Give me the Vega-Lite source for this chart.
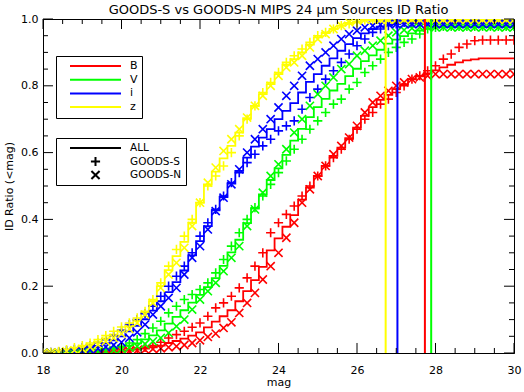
{
"$schema":"https://vega.github.io/schema/vega-lite/v6.json",
"width":471,"height":334,
"autosize":{"type":"none"},
"padding":{"left":43,"top":19,"right":10,"bottom":39},
"title":{"text":"GOODS-S vs GOODS-N MIPS 24 μm Sources ID Ratio","font":"DejaVu Sans","fontSize":13,"fontWeight":"normal","color":"black","anchor":"middle","offset":-4},
"config":{"font":"DejaVu Sans","view":{"stroke":"black","strokeWidth":1},
"axis":{"domainColor":"black","labelColor":"black","titleColor":"black","grid":false,"ticks":false,"labelFontSize":11,"titleFontSize":11,"titleFontWeight":"normal","labelFlush":false,"labelOverlap":false}},
"datasets":{
"xmaj":[{"v":18},{"v":20},{"v":22},{"v":24},{"v":26},{"v":28},{"v":30}],
"xmin":[{"v":18.5},{"v":19},{"v":19.5},{"v":20.5},{"v":21},{"v":21.5},{"v":22.5},{"v":23},{"v":23.5},{"v":24.5},{"v":25},{"v":25.5},{"v":26.5},{"v":27},{"v":27.5},{"v":28.5},{"v":29},{"v":29.5}],
"ymaj":[{"v":0},{"v":0.2},{"v":0.4},{"v":0.6},{"v":0.8},{"v":1}],
"ymin":[{"v":0.05},{"v":0.1},{"v":0.15},{"v":0.25},{"v":0.3},{"v":0.35},{"v":0.45},{"v":0.5},{"v":0.55},{"v":0.65},{"v":0.7},{"v":0.75},{"v":0.85},{"v":0.9},{"v":0.95}],
"vlines":[{"band":"z","m":26.73},{"band":"i","m":27.03},{"band":"B","m":27.73},{"band":"V","m":27.89}],
"curves":[
{"band":"B","m":18,"S":0,"N":0,"A":0},{"band":"B","m":18.2,"S":0,"N":0,"A":0},{"band":"B","m":18.4,"S":0,"N":0,"A":0},{"band":"B","m":18.6,"S":0,"N":0,"A":0},{"band":"B","m":18.8,"S":0,"N":0,"A":0},
{"band":"B","m":19,"S":0.001,"N":0,"A":0.001},{"band":"B","m":19.2,"S":0.001,"N":0,"A":0.001},{"band":"B","m":19.4,"S":0.002,"N":0,"A":0.001},{"band":"B","m":19.6,"S":0.003,"N":0.001,"A":0.002},{"band":"B","m":19.8,"S":0.004,"N":0.002,"A":0.003},
{"band":"B","m":20,"S":0.005,"N":0.004,"A":0.005},{"band":"B","m":20.2,"S":0.008,"N":0.006,"A":0.007},{"band":"B","m":20.4,"S":0.012,"N":0.008,"A":0.01},{"band":"B","m":20.6,"S":0.017,"N":0.01,"A":0.013},{"band":"B","m":20.8,"S":0.022,"N":0.012,"A":0.017},
{"band":"B","m":21,"S":0.032,"N":0.014,"A":0.022},{"band":"B","m":21.2,"S":0.045,"N":0.017,"A":0.03},{"band":"B","m":21.4,"S":0.055,"N":0.02,"A":0.036},{"band":"B","m":21.6,"S":0.065,"N":0.024,"A":0.043},{"band":"B","m":21.8,"S":0.077,"N":0.03,"A":0.052},
{"band":"B","m":22,"S":0.09,"N":0.038,"A":0.062},{"band":"B","m":22.2,"S":0.11,"N":0.048,"A":0.077},{"band":"B","m":22.4,"S":0.135,"N":0.058,"A":0.094},{"band":"B","m":22.6,"S":0.15,"N":0.075,"A":0.11},{"band":"B","m":22.8,"S":0.17,"N":0.092,"A":0.128},
{"band":"B","m":23,"S":0.195,"N":0.12,"A":0.155},{"band":"B","m":23.2,"S":0.225,"N":0.15,"A":0.185},{"band":"B","m":23.4,"S":0.26,"N":0.18,"A":0.218},{"band":"B","m":23.6,"S":0.3,"N":0.22,"A":0.258},{"band":"B","m":23.8,"S":0.36,"N":0.26,"A":0.307},
{"band":"B","m":24,"S":0.39,"N":0.3,"A":0.343},{"band":"B","m":24.2,"S":0.415,"N":0.345,"A":0.378},{"band":"B","m":24.4,"S":0.44,"N":0.39,"A":0.413},{"band":"B","m":24.6,"S":0.47,"N":0.45,"A":0.459},{"band":"B","m":24.8,"S":0.5,"N":0.49,"A":0.495},
{"band":"B","m":25,"S":0.53,"N":0.53,"A":0.53},{"band":"B","m":25.2,"S":0.56,"N":0.56,"A":0.56},{"band":"B","m":25.4,"S":0.585,"N":0.595,"A":0.59},{"band":"B","m":25.6,"S":0.61,"N":0.62,"A":0.615},{"band":"B","m":25.8,"S":0.64,"N":0.645,"A":0.643},
{"band":"B","m":26,"S":0.67,"N":0.68,"A":0.675},{"band":"B","m":26.2,"S":0.7,"N":0.72,"A":0.71},{"band":"B","m":26.4,"S":0.72,"N":0.75,"A":0.736},{"band":"B","m":26.6,"S":0.745,"N":0.77,"A":0.758},{"band":"B","m":26.8,"S":0.76,"N":0.785,"A":0.773},
{"band":"B","m":27,"S":0.78,"N":0.8,"A":0.79},{"band":"B","m":27.2,"S":0.8,"N":0.81,"A":0.805},{"band":"B","m":27.4,"S":0.82,"N":0.82,"A":0.82},{"band":"B","m":27.6,"S":0.83,"N":0.825,"A":0.828},{"band":"B","m":27.8,"S":0.845,"N":0.83,"A":0.837},
{"band":"B","m":28,"S":0.86,"N":0.835,"A":0.846},{"band":"B","m":28.2,"S":0.88,"N":0.835,"A":0.855},{"band":"B","m":28.4,"S":0.895,"N":0.835,"A":0.863},{"band":"B","m":28.6,"S":0.915,"N":0.835,"A":0.87},{"band":"B","m":28.8,"S":0.925,"N":0.835,"A":0.876},
{"band":"B","m":29,"S":0.935,"N":0.835,"A":0.879},{"band":"B","m":29.2,"S":0.937,"N":0.835,"A":0.882},{"band":"B","m":29.4,"S":0.937,"N":0.835,"A":0.882},{"band":"B","m":29.6,"S":0.937,"N":0.835,"A":0.882},{"band":"B","m":29.8,"S":0.937,"N":0.835,"A":0.882},{"band":"B","m":30,"S":0.937,"N":0.835,"A":0.882},
{"band":"V","m":18,"S":0,"N":0,"A":0},{"band":"V","m":18.2,"S":0,"N":0,"A":0},{"band":"V","m":18.4,"S":0.001,"N":0,"A":0},{"band":"V","m":18.6,"S":0.002,"N":0,"A":0.001},{"band":"V","m":18.8,"S":0.003,"N":0,"A":0.001},
{"band":"V","m":19,"S":0.004,"N":0.001,"A":0.002},{"band":"V","m":19.2,"S":0.006,"N":0.002,"A":0.004},{"band":"V","m":19.4,"S":0.008,"N":0.003,"A":0.005},{"band":"V","m":19.6,"S":0.01,"N":0.005,"A":0.007},{"band":"V","m":19.8,"S":0.015,"N":0.008,"A":0.011},
{"band":"V","m":20,"S":0.02,"N":0.012,"A":0.016},{"band":"V","m":20.2,"S":0.03,"N":0.016,"A":0.022},{"band":"V","m":20.4,"S":0.04,"N":0.02,"A":0.029},{"band":"V","m":20.6,"S":0.058,"N":0.027,"A":0.041},{"band":"V","m":20.8,"S":0.075,"N":0.035,"A":0.053},
{"band":"V","m":21,"S":0.095,"N":0.045,"A":0.068},{"band":"V","m":21.2,"S":0.12,"N":0.06,"A":0.088},{"band":"V","m":21.4,"S":0.14,"N":0.08,"A":0.108},{"band":"V","m":21.6,"S":0.16,"N":0.1,"A":0.128},{"band":"V","m":21.8,"S":0.175,"N":0.13,"A":0.151},
{"band":"V","m":22,"S":0.19,"N":0.16,"A":0.174},{"band":"V","m":22.2,"S":0.21,"N":0.185,"A":0.197},{"band":"V","m":22.4,"S":0.24,"N":0.21,"A":0.224},{"band":"V","m":22.6,"S":0.28,"N":0.245,"A":0.261},{"band":"V","m":22.8,"S":0.32,"N":0.285,"A":0.301},
{"band":"V","m":23,"S":0.36,"N":0.32,"A":0.339},{"band":"V","m":23.2,"S":0.4,"N":0.38,"A":0.389},{"band":"V","m":23.4,"S":0.435,"N":0.43,"A":0.432},{"band":"V","m":23.6,"S":0.47,"N":0.48,"A":0.475},{"band":"V","m":23.8,"S":0.505,"N":0.53,"A":0.518},
{"band":"V","m":24,"S":0.54,"N":0.565,"A":0.553},{"band":"V","m":24.2,"S":0.575,"N":0.61,"A":0.593},{"band":"V","m":24.4,"S":0.61,"N":0.66,"A":0.636},{"band":"V","m":24.6,"S":0.64,"N":0.7,"A":0.671},{"band":"V","m":24.8,"S":0.67,"N":0.74,"A":0.706},
{"band":"V","m":25,"S":0.695,"N":0.775,"A":0.736},{"band":"V","m":25.2,"S":0.72,"N":0.8,"A":0.761},{"band":"V","m":25.4,"S":0.745,"N":0.825,"A":0.786},{"band":"V","m":25.6,"S":0.76,"N":0.85,"A":0.806},{"band":"V","m":25.8,"S":0.79,"N":0.865,"A":0.829},
{"band":"V","m":26,"S":0.81,"N":0.89,"A":0.851},{"band":"V","m":26.2,"S":0.84,"N":0.905,"A":0.874},{"band":"V","m":26.4,"S":0.86,"N":0.92,"A":0.891},{"band":"V","m":26.6,"S":0.88,"N":0.935,"A":0.908},{"band":"V","m":26.8,"S":0.9,"N":0.95,"A":0.926},
{"band":"V","m":27,"S":0.915,"N":0.96,"A":0.938},{"band":"V","m":27.2,"S":0.93,"N":0.967,"A":0.949},{"band":"V","m":27.4,"S":0.94,"N":0.972,"A":0.957},{"band":"V","m":27.6,"S":0.955,"N":0.975,"A":0.965},{"band":"V","m":27.8,"S":0.97,"N":0.975,"A":0.972},
{"band":"V","m":28,"S":0.975,"N":0.975,"A":0.975},{"band":"V","m":28.2,"S":0.978,"N":0.975,"A":0.976},{"band":"V","m":28.4,"S":0.978,"N":0.975,"A":0.976},{"band":"V","m":28.6,"S":0.978,"N":0.975,"A":0.976},{"band":"V","m":28.8,"S":0.978,"N":0.975,"A":0.976},
{"band":"V","m":29,"S":0.978,"N":0.975,"A":0.976},{"band":"V","m":29.2,"S":0.978,"N":0.975,"A":0.976},{"band":"V","m":29.4,"S":0.978,"N":0.975,"A":0.976},{"band":"V","m":29.6,"S":0.978,"N":0.975,"A":0.976},{"band":"V","m":29.8,"S":0.978,"N":0.975,"A":0.976},{"band":"V","m":30,"S":0.978,"N":0.975,"A":0.976},
{"band":"i","m":18,"S":0,"N":0,"A":0},{"band":"i","m":18.2,"S":0.002,"N":0,"A":0.001},{"band":"i","m":18.4,"S":0.004,"N":0.001,"A":0.002},{"band":"i","m":18.6,"S":0.007,"N":0.002,"A":0.004},{"band":"i","m":18.8,"S":0.011,"N":0.004,"A":0.007},
{"band":"i","m":19,"S":0.016,"N":0.006,"A":0.011},{"band":"i","m":19.2,"S":0.022,"N":0.009,"A":0.015},{"band":"i","m":19.4,"S":0.03,"N":0.013,"A":0.021},{"band":"i","m":19.6,"S":0.04,"N":0.018,"A":0.029},{"band":"i","m":19.8,"S":0.052,"N":0.024,"A":0.038},
{"band":"i","m":20,"S":0.068,"N":0.032,"A":0.05},{"band":"i","m":20.2,"S":0.085,"N":0.045,"A":0.065},{"band":"i","m":20.4,"S":0.1,"N":0.062,"A":0.081},{"band":"i","m":20.6,"S":0.118,"N":0.085,"A":0.101},{"band":"i","m":20.8,"S":0.14,"N":0.115,"A":0.127},
{"band":"i","m":21,"S":0.17,"N":0.14,"A":0.155},{"band":"i","m":21.2,"S":0.2,"N":0.165,"A":0.182},{"band":"i","m":21.4,"S":0.23,"N":0.195,"A":0.212},{"band":"i","m":21.6,"S":0.26,"N":0.235,"A":0.247},{"band":"i","m":21.8,"S":0.3,"N":0.285,"A":0.292},
{"band":"i","m":22,"S":0.35,"N":0.32,"A":0.335},{"band":"i","m":22.2,"S":0.39,"N":0.37,"A":0.38},{"band":"i","m":22.4,"S":0.43,"N":0.425,"A":0.427},{"band":"i","m":22.6,"S":0.47,"N":0.465,"A":0.467},{"band":"i","m":22.8,"S":0.51,"N":0.505,"A":0.507},
{"band":"i","m":23,"S":0.54,"N":0.55,"A":0.545},{"band":"i","m":23.2,"S":0.57,"N":0.6,"A":0.585},{"band":"i","m":23.4,"S":0.595,"N":0.64,"A":0.618},{"band":"i","m":23.6,"S":0.62,"N":0.67,"A":0.645},{"band":"i","m":23.8,"S":0.64,"N":0.7,"A":0.67},
{"band":"i","m":24,"S":0.665,"N":0.735,"A":0.7},{"band":"i","m":24.2,"S":0.68,"N":0.77,"A":0.725},{"band":"i","m":24.4,"S":0.695,"N":0.8,"A":0.748},{"band":"i","m":24.6,"S":0.73,"N":0.83,"A":0.78},{"band":"i","m":24.8,"S":0.765,"N":0.86,"A":0.812},
{"band":"i","m":25,"S":0.79,"N":0.88,"A":0.835},{"band":"i","m":25.2,"S":0.82,"N":0.9,"A":0.86},{"band":"i","m":25.4,"S":0.845,"N":0.92,"A":0.882},{"band":"i","m":25.6,"S":0.87,"N":0.94,"A":0.905},{"band":"i","m":25.8,"S":0.895,"N":0.955,"A":0.925},
{"band":"i","m":26,"S":0.92,"N":0.965,"A":0.943},{"band":"i","m":26.2,"S":0.94,"N":0.975,"A":0.957},{"band":"i","m":26.4,"S":0.96,"N":0.98,"A":0.97},{"band":"i","m":26.6,"S":0.97,"N":0.983,"A":0.977},{"band":"i","m":26.8,"S":0.98,"N":0.985,"A":0.983},
{"band":"i","m":27,"S":0.985,"N":0.985,"A":0.985},{"band":"i","m":27.2,"S":0.99,"N":0.985,"A":0.987},{"band":"i","m":27.4,"S":0.99,"N":0.985,"A":0.987},{"band":"i","m":27.6,"S":0.99,"N":0.985,"A":0.987},{"band":"i","m":27.8,"S":0.99,"N":0.985,"A":0.987},
{"band":"i","m":28,"S":0.99,"N":0.985,"A":0.987},{"band":"i","m":28.2,"S":0.99,"N":0.985,"A":0.987},{"band":"i","m":28.4,"S":0.99,"N":0.985,"A":0.987},{"band":"i","m":28.6,"S":0.99,"N":0.985,"A":0.987},{"band":"i","m":28.8,"S":0.99,"N":0.985,"A":0.987},
{"band":"i","m":29,"S":0.99,"N":0.985,"A":0.987},{"band":"i","m":29.2,"S":0.99,"N":0.985,"A":0.987},{"band":"i","m":29.4,"S":0.99,"N":0.985,"A":0.987},{"band":"i","m":29.6,"S":0.99,"N":0.985,"A":0.987},{"band":"i","m":29.8,"S":0.99,"N":0.985,"A":0.987},{"band":"i","m":30,"S":0.99,"N":0.985,"A":0.987},
{"band":"z","m":18,"S":0,"N":0,"A":0},{"band":"z","m":18.2,"S":0.002,"N":0,"A":0.001},{"band":"z","m":18.4,"S":0.005,"N":0.002,"A":0.004},{"band":"z","m":18.6,"S":0.01,"N":0.005,"A":0.008},{"band":"z","m":18.8,"S":0.016,"N":0.008,"A":0.012},
{"band":"z","m":19,"S":0.022,"N":0.012,"A":0.017},{"band":"z","m":19.2,"S":0.03,"N":0.018,"A":0.024},{"band":"z","m":19.4,"S":0.04,"N":0.025,"A":0.033},{"band":"z","m":19.6,"S":0.052,"N":0.035,"A":0.044},{"band":"z","m":19.8,"S":0.065,"N":0.045,"A":0.055},
{"band":"z","m":20,"S":0.078,"N":0.058,"A":0.068},{"band":"z","m":20.2,"S":0.09,"N":0.072,"A":0.081},{"band":"z","m":20.4,"S":0.105,"N":0.09,"A":0.098},{"band":"z","m":20.6,"S":0.125,"N":0.115,"A":0.12},{"band":"z","m":20.8,"S":0.16,"N":0.15,"A":0.155},
{"band":"z","m":21,"S":0.21,"N":0.195,"A":0.2},{"band":"z","m":21.2,"S":0.26,"N":0.235,"A":0.248},{"band":"z","m":21.4,"S":0.31,"N":0.27,"A":0.29},{"band":"z","m":21.6,"S":0.35,"N":0.315,"A":0.333},{"band":"z","m":21.8,"S":0.4,"N":0.38,"A":0.39},
{"band":"z","m":22,"S":0.45,"N":0.45,"A":0.45},{"band":"z","m":22.2,"S":0.5,"N":0.51,"A":0.505},{"band":"z","m":22.4,"S":0.53,"N":0.555,"A":0.543},{"band":"z","m":22.6,"S":0.56,"N":0.605,"A":0.583},{"band":"z","m":22.8,"S":0.6,"N":0.64,"A":0.62},
{"band":"z","m":23,"S":0.65,"N":0.67,"A":0.66},{"band":"z","m":23.2,"S":0.7,"N":0.705,"A":0.703},{"band":"z","m":23.4,"S":0.74,"N":0.74,"A":0.74},{"band":"z","m":23.6,"S":0.78,"N":0.77,"A":0.775},{"band":"z","m":23.8,"S":0.81,"N":0.8,"A":0.805},
{"band":"z","m":24,"S":0.84,"N":0.83,"A":0.835},{"band":"z","m":24.2,"S":0.87,"N":0.855,"A":0.863},{"band":"z","m":24.4,"S":0.89,"N":0.87,"A":0.88},{"band":"z","m":24.6,"S":0.91,"N":0.89,"A":0.9},{"band":"z","m":24.8,"S":0.93,"N":0.915,"A":0.923},
{"band":"z","m":25,"S":0.95,"N":0.94,"A":0.945},{"band":"z","m":25.2,"S":0.96,"N":0.955,"A":0.958},{"band":"z","m":25.4,"S":0.97,"N":0.97,"A":0.97},{"band":"z","m":25.6,"S":0.98,"N":0.98,"A":0.98},{"band":"z","m":25.8,"S":0.985,"N":0.99,"A":0.988},
{"band":"z","m":26,"S":0.99,"N":0.995,"A":0.993},{"band":"z","m":26.2,"S":0.997,"N":0.998,"A":0.998},{"band":"z","m":26.4,"S":0.997,"N":0.998,"A":0.998},{"band":"z","m":26.6,"S":0.997,"N":0.998,"A":0.998},{"band":"z","m":26.8,"S":0.997,"N":0.998,"A":0.998},
{"band":"z","m":27,"S":0.997,"N":0.998,"A":0.998},{"band":"z","m":27.2,"S":0.997,"N":0.998,"A":0.998},{"band":"z","m":27.4,"S":0.997,"N":0.998,"A":0.998},{"band":"z","m":27.6,"S":0.997,"N":0.998,"A":0.998},{"band":"z","m":27.8,"S":0.997,"N":0.998,"A":0.998},
{"band":"z","m":28,"S":0.997,"N":0.998,"A":0.998},{"band":"z","m":28.2,"S":0.997,"N":0.998,"A":0.998},{"band":"z","m":28.4,"S":0.997,"N":0.998,"A":0.998},{"band":"z","m":28.6,"S":0.997,"N":0.998,"A":0.998},{"band":"z","m":28.8,"S":0.997,"N":0.998,"A":0.998},
{"band":"z","m":29,"S":0.997,"N":0.998,"A":0.998},{"band":"z","m":29.2,"S":0.997,"N":0.998,"A":0.998},{"band":"z","m":29.4,"S":0.997,"N":0.998,"A":0.998},{"band":"z","m":29.6,"S":0.997,"N":0.998,"A":0.998},{"band":"z","m":29.8,"S":0.997,"N":0.998,"A":0.998},{"band":"z","m":30,"S":0.997,"N":0.998,"A":0.998}
]},
"resolve":{"axis":{"x":"independent","y":"independent"}},
"layer":[
{"data":{"name":"curves"},
 "mark":{"type":"line","interpolate":"step","strokeWidth":1.8,"clip":true},
 "encoding":{
  "x":{"field":"m","type":"quantitative","title":"mag","scale":{"domain":[18,30],"nice":false,"zero":false},
   "axis":{"orient":"bottom","values":[18,20,22,24,26,28,30],"format":"d","ticks":false,"labelPadding":11,"titlePadding":1}},
  "y":{"field":"A","type":"quantitative","title":"ID Ratio (<mag)","scale":{"domain":[0,1],"nice":false},
   "axis":{"orient":"left","values":[0,0.2,0.4,0.6,0.8,1],"format":".1f","ticks":false,"labelPadding":5,"titlePadding":6}},
  "color":{"field":"band","type":"nominal","scale":{"domain":["B","V","i","z"],"range":["#ff0000","#00ff00","#0000ff","#ffff00"]},
   "legend":{"title":null,"orient":"none","legendX":13,"legendY":37,"direction":"vertical","strokeColor":"black","padding":4,"clipHeight":12,"rowPadding":1.7,"symbolType":"stroke","symbolSize":2601,"symbolStrokeWidth":2,"symbolOffset":9,"labelOffset":8,"labelFontSize":11,"labelColor":"black"}}
 }},
{"data":{"name":"curves"},
 "mark":{"type":"point","filled":false,"strokeWidth":1.6,"size":2601,"opacity":1,"clip":true},
 "encoding":{
  "x":{"field":"m","type":"quantitative","axis":null},
  "y":{"field":"S","type":"quantitative","axis":null},
  "color":{"field":"band","type":"nominal"},
  "shape":{"datum":"GOODS-S","type":"nominal","scale":{"domain":["ALL","GOODS-S","GOODS-N"],"range":["M-1,0L1,0","M-0.18,0L0.18,0M0,-0.18L0,0.18","M-0.16,-0.16L0.16,0.16M-0.16,0.16L0.16,-0.16"]},
   "legend":{"title":null,"orient":"none","legendX":13,"legendY":119,"direction":"vertical","strokeColor":"black","padding":4,"clipHeight":12,"rowPadding":1.5,"symbolSize":2601,"symbolStrokeWidth":2,"symbolStrokeColor":"black","symbolFillColor":"transparent","symbolOffset":9,"labelOffset":8,"labelFontSize":10.5,"labelColor":"black"}}
 }},
{"data":{"name":"curves"},
 "mark":{"type":"point","filled":false,"strokeWidth":1.6,"size":2601,"opacity":1,"clip":true},
 "encoding":{
  "x":{"field":"m","type":"quantitative","axis":null},
  "y":{"field":"N","type":"quantitative","axis":null},
  "color":{"field":"band","type":"nominal"},
  "shape":{"datum":"GOODS-N","type":"nominal"}
 }},
{"data":{"name":"vlines"},
 "mark":{"type":"rule","strokeWidth":2},
 "encoding":{
  "x":{"field":"m","type":"quantitative","axis":null},
  "color":{"field":"band","type":"nominal"}
 }},
{"data":{"name":"xmaj"},"mark":{"type":"rule","color":"black","strokeWidth":1},
 "encoding":{"x":{"field":"v","type":"quantitative","axis":null},"y":{"datum":0,"type":"quantitative","axis":null},"y2":{"datum":0.03}}},
{"data":{"name":"xmaj"},"mark":{"type":"rule","color":"black","strokeWidth":1},
 "encoding":{"x":{"field":"v","type":"quantitative","axis":null},"y":{"datum":1,"type":"quantitative","axis":null},"y2":{"datum":0.97}}},
{"data":{"name":"xmin"},"mark":{"type":"rule","color":"black","strokeWidth":1},
 "encoding":{"x":{"field":"v","type":"quantitative","axis":null},"y":{"datum":0,"type":"quantitative","axis":null},"y2":{"datum":0.015}}},
{"data":{"name":"xmin"},"mark":{"type":"rule","color":"black","strokeWidth":1},
 "encoding":{"x":{"field":"v","type":"quantitative","axis":null},"y":{"datum":1,"type":"quantitative","axis":null},"y2":{"datum":0.985}}},
{"data":{"name":"ymaj"},"mark":{"type":"rule","color":"black","strokeWidth":1},
 "encoding":{"y":{"field":"v","type":"quantitative","axis":null},"x":{"datum":18,"type":"quantitative","axis":null},"x2":{"datum":18.255}}},
{"data":{"name":"ymaj"},"mark":{"type":"rule","color":"black","strokeWidth":1},
 "encoding":{"y":{"field":"v","type":"quantitative","axis":null},"x":{"datum":30,"type":"quantitative","axis":null},"x2":{"datum":29.745}}},
{"data":{"name":"ymin"},"mark":{"type":"rule","color":"black","strokeWidth":1},
 "encoding":{"y":{"field":"v","type":"quantitative","axis":null},"x":{"datum":18,"type":"quantitative","axis":null},"x2":{"datum":18.127}}},
{"data":{"name":"ymin"},"mark":{"type":"rule","color":"black","strokeWidth":1},
 "encoding":{"y":{"field":"v","type":"quantitative","axis":null},"x":{"datum":30,"type":"quantitative","axis":null},"x2":{"datum":29.873}}}
]
}
